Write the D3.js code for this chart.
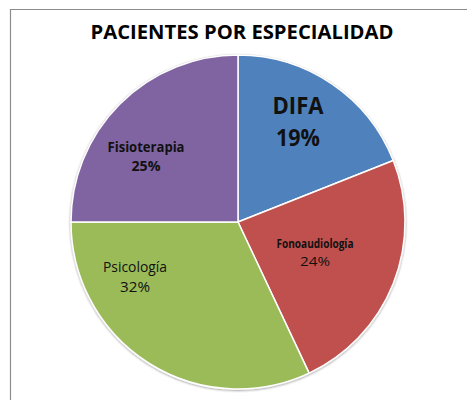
<!DOCTYPE html>
<html><head><meta charset="utf-8">
<script src="https://cdn.jsdelivr.net/npm/d3@7"></script>
<style>html,body{margin:0;padding:0;background:#fff;}svg{display:block;}</style>
</head><body>
<svg id="c" width="467" height="400"></svg>
<script>
const categories = ["DIFA", "Fonoaudiología", "Psicología", "Fisioterapia"];
const values = [19, 24, 32, 25];
const colors = ["#4F81BD", "#C0504D", "#9BBB59", "#8064A2"];
const title = "PACIENTES POR ESPECIALIDAD";

// label layout: offset of label block centre from pie centre, font sizes, weights
const labelLayout = [
  {dx: 60, dy: -100, nameSize: 23.5, pctSize: 23.5, nameW: "bold", pctW: "bold", gap: 32, nameLen: 51, pctLen: 44},
  {dx: 77, dy: 31, nameSize: 11.5, pctSize: 13, nameW: "bold", pctW: "normal", gap: 18, nameLen: 77, pctLen: 30},
  {dx: -103, dy: 55, nameSize: 14, pctSize: 14, nameW: "normal", pctW: "normal", gap: 20, nameLen: 64, pctLen: 30},
  {dx: -92, dy: -65, nameSize: 13.5, pctSize: 13.5, nameW: "bold", pctW: "bold", gap: 19, nameLen: 77, pctLen: 29}
];

const svg = d3.select("#c");
const W = 467, H = 400;
const font = "'Open Sans', 'Noto Sans', sans-serif";

// chart area border
svg.append("path")
  .attr("d", `M10.5,${H} L10.5,9.5 L${W},9.5`)
  .attr("fill", "none").attr("stroke", "#8c8c8c").attr("stroke-width", 1.2);

svg.append("text")
  .attr("x", 242).attr("y", 39)
  .attr("text-anchor", "middle")
  .attr("font-family", font).attr("font-weight", "bold").attr("font-size", 19.5)
  .attr("textLength", 303).attr("lengthAdjust", "spacingAndGlyphs")
  .attr("fill", "#000")
  .text(title);

const cx = 238, cy = 222, R = 167;
const g = svg.append("g").attr("transform", `translate(${cx},${cy})`);

const defs = svg.append("defs");
const f = defs.append("filter").attr("id", "sh").attr("x", "-10%").attr("y", "-10%").attr("width", "120%").attr("height", "120%");
f.append("feGaussianBlur").attr("in", "SourceAlpha").attr("stdDeviation", 1.2);
f.append("feOffset").attr("dx", 0).attr("dy", 0.6).attr("result", "b");
f.append("feComponentTransfer").append("feFuncA").attr("type", "linear").attr("slope", 0.35);
const fm = f.append("feMerge");
fm.append("feMergeNode");
fm.append("feMergeNode").attr("in", "SourceGraphic");

const data = categories.map((c, i) => ({name: c, value: values[i], color: colors[i], layout: labelLayout[i]}));
const pie = d3.pie().value(d => d.value).sort(null);
const arc = d3.arc().innerRadius(0).outerRadius(R);
const arcs = pie(data);

// outer soft edge
g.append("circle").attr("r", R).attr("fill", "#fff").attr("stroke", "#d9d9d9").attr("stroke-width", 2).attr("filter", "url(#sh)");

g.selectAll("path.slice").data(arcs).join("path")
  .attr("class", "slice")
  .attr("d", arc)
  .attr("fill", d => d.data.color)
  .attr("stroke", "#fff").attr("stroke-width", 1.5).attr("stroke-linejoin", "round");

const total = d3.sum(values);
const lbl = g.selectAll("g.lbl").data(arcs).join("g").attr("class", "lbl")
  .attr("transform", d => `translate(${d.data.layout.dx},${d.data.layout.dy})`);

lbl.each(function(d) {
  const L = d.data.layout;
  const sel = d3.select(this);
  const capN = L.nameSize * 0.714;
  const blockH = capN + L.gap;
  const y1 = -blockH / 2 + capN;
  sel.append("text").attr("x", 0).attr("y", y1)
    .attr("text-anchor", "middle").attr("font-family", font)
    .attr("font-size", L.nameSize).attr("font-weight", L.nameW).attr("fill", "#111")
    .attr("textLength", L.nameLen).attr("lengthAdjust", "spacingAndGlyphs")
    .text(d.data.name);
  sel.append("text").attr("x", 0).attr("y", y1 + L.gap)
    .attr("text-anchor", "middle").attr("font-family", font)
    .attr("font-size", L.pctSize).attr("font-weight", L.pctW).attr("fill", "#111")
    .attr("textLength", L.pctLen).attr("lengthAdjust", "spacingAndGlyphs")
    .text(Math.round(d.data.value / total * 100) + "%");
});
</script>
</body></html>
